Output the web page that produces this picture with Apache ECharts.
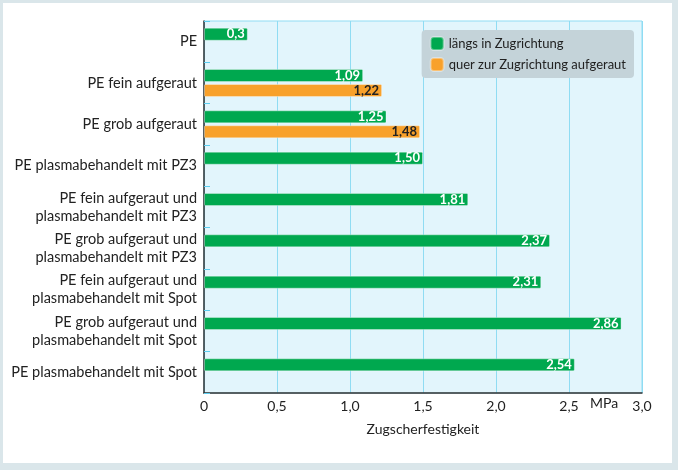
<!DOCTYPE html>
<html><head><meta charset="utf-8">
<script src="https://cdn.jsdelivr.net/npm/echarts@6/dist/echarts.min.js"></script>
<style>
html,body{margin:0;padding:0;}
#wrap{position:relative;width:678px;height:470px;background:#dae6ea;}
#inner{position:absolute;left:3px;top:3px;width:669px;height:460px;background:#fff;}
#chart{position:absolute;left:0;top:0;width:678px;height:470px;}
</style></head>
<body>
<div id="wrap"><div id="inner"></div><div id="chart"></div></div>
<script>
const categories = [
  'PE',
  'PE fein aufgeraut',
  'PE grob aufgeraut',
  'PE plasmabehandelt mit PZ3',
  'PE fein aufgeraut und\nplasmabehandelt mit PZ3',
  'PE grob aufgeraut und\nplasmabehandelt mit PZ3',
  'PE fein aufgeraut und\nplasmabehandelt mit Spot',
  'PE grob aufgeraut und\nplasmabehandelt mit Spot',
  'PE plasmabehandelt mit Spot'
];
const laengsValues = [0.3, 1.09, 1.25, 1.50, 1.81, 2.37, 2.31, 2.86, 2.54];
const laengsLabels = ['0,3','1,09','1,25','1,50','1,81','2,37','2,31','2,86','2,54'];
const querValues = [null, 1.22, 1.48, null, null, null, null, null, null];
const querLabels = ['', '1,22', '1,48', '', '', '', '', '', ''];
const xTicks = ['0','0,5','1,0','1,5','2,0','2,5','3,0'];
const seriesNames = ['längs in Zugrichtung', 'quer zur Zugrichtung aufgeraut'];

const FONT = 'Lato';
const chart = echarts.init(document.getElementById('chart'), null, {renderer:'canvas'});
chart.setOption({
  backgroundColor: 'transparent',
  textStyle: {fontFamily: FONT},
  grid: {left: 204, top: 21, right: 36, bottom: 77, show: true, backgroundColor: '#e2f5fc', borderColor: '#8fdcf3', borderWidth: 1},
  legend: {
    data: seriesNames,
    orient: 'vertical',
    right: 44, top: 30,
    backgroundColor: '#c4d3d9',
    borderRadius: 4,
    padding: [6, 8, 6, 8],
    itemWidth: 13, itemHeight: 13, itemGap: 6,
    textStyle: {fontFamily: FONT, fontSize: 13, color: '#222'},
    icon: 'roundRect'
  },
  xAxis: {
    type: 'value', min: 0, max: 3, interval: 0.5,
    name: 'Zugscherfestigkeit', nameLocation: 'middle', nameGap: 29,
    nameTextStyle: {fontFamily: FONT, fontSize: 14, color: '#222'},
    axisLine: {show: true, lineStyle: {color: '#333', width: 1.5}},
    axisTick: {show: false},
    axisLabel: {fontFamily: FONT, fontSize: 14, color: '#222', margin: 6,
      formatter: v => xTicks[Math.round(v * 2)]},
    splitLine: {show: true, lineStyle: {color: '#8fdcf3', width: 1}}
  },
  yAxis: {
    type: 'category', data: categories, inverse: true,
    axisLine: {show: true, lineStyle: {color: '#333', width: 1.5}},
    axisTick: {show: true, inside: true, length: 6, lineStyle: {color: '#5ccdf0'}},
    axisLabel: {fontFamily: FONT, fontSize: 14.5, color: '#222', margin: 7, lineHeight: 18, align: 'right'}
  },
  graphic: [{
    type: 'text', left: 590, top: 396,
    style: {text: 'MPa', fontFamily: FONT, fontSize: 14, fill: '#222'}
  }],
  series: [
    {
      name: seriesNames[0], type: 'bar', data: laengsValues,
      barWidth: 13, barGap: '15%',
      itemStyle: {color: '#00a84f', borderColor: 'rgba(255,255,255,0.35)', borderWidth: 1, borderRadius: 1},
      label: {show: true, position: 'insideRight', distance: 3, color: '#fff', fontWeight: 'bold', fontSize: 13, fontFamily: FONT,
        formatter: p => laengsLabels[p.dataIndex]}
    },
    {
      name: seriesNames[1], type: 'bar', data: querValues,
      barWidth: 13,
      itemStyle: {color: '#f8a12b', borderColor: 'rgba(255,255,255,0.35)', borderWidth: 1, borderRadius: 1},
      label: {show: true, position: 'insideRight', distance: 3, color: '#222', fontWeight: 'bold', fontSize: 13, fontFamily: FONT,
        formatter: p => querLabels[p.dataIndex]}
    }
  ]
});
</script>
</body></html>
